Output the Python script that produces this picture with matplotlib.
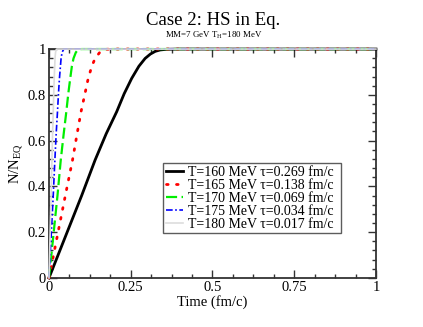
import numpy as np
import matplotlib
matplotlib.use('Agg')
import matplotlib.pyplot as plt
from matplotlib.ticker import MultipleLocator

plt.rcParams['font.family'] = ['Liberation Serif', 'DejaVu Serif']
plt.rcParams['mathtext.fontset'] = 'custom'
plt.rcParams['mathtext.rm'] = 'Liberation Serif'

# values
t_160 = [0, 0.05, 0.10, 0.141, 0.175, 0.207, 0.23, 0.253, 0.275, 0.294, 0.31, 0.325, 0.34, 0.36, 0.40, 1.0]
y_160 = [0, 0.18, 0.36, 0.515, 0.63, 0.726, 0.805, 0.872, 0.925, 0.959, 0.978, 0.99, 0.996, 0.999, 1.0, 1.0]

t_165 = [0, 0.025, 0.05, 0.072, 0.086, 0.098, 0.11, 0.12, 0.131, 0.141, 0.155, 0.165, 0.175, 0.20, 1.0]
y_165 = [0, 0.18, 0.36, 0.515, 0.63, 0.726, 0.805, 0.872, 0.925, 0.959, 0.985, 0.994, 0.999, 1.0, 1.0]

t_170 = [0, 0.013, 0.026, 0.036, 0.045, 0.053, 0.059, 0.065, 0.070, 0.075, 0.082, 0.087, 0.092, 0.10, 1.0]
y_170 = [0, 0.18, 0.36, 0.515, 0.63, 0.726, 0.805, 0.872, 0.925, 0.959, 0.985, 0.994, 0.999, 1.0, 1.0]

t_175 = [0, 0.0065, 0.013, 0.018, 0.022, 0.026, 0.029, 0.032, 0.035, 0.037, 0.040, 0.043, 0.045, 0.05, 1.0]
y_175 = [0, 0.18, 0.36, 0.515, 0.63, 0.726, 0.805, 0.872, 0.925, 0.959, 0.985, 0.994, 0.999, 1.0, 1.0]

t_180 = [0, 0.0032, 0.0065, 0.009, 0.011, 0.013, 0.0145, 0.016, 0.0175, 0.0185, 0.020, 0.0215, 0.0225, 0.025, 1.0]
y_180 = [0, 0.18, 0.36, 0.515, 0.63, 0.726, 0.805, 0.872, 0.925, 0.959, 0.985, 0.994, 0.999, 1.0, 1.0]

labels = [
    'T=160 MeV τ=0.269 fm/c',
    'T=165 MeV τ=0.138 fm/c',
    'T=170 MeV τ=0.069 fm/c',
    'T=175 MeV τ=0.034 fm/c',
    'T=180 MeV τ=0.017 fm/c',
]

fig = plt.figure(figsize=(4.23, 3.27), dpi=100)
ax = fig.add_axes([0.1158, 0.150, 0.773, 0.700])

ax.plot(t_160, y_160, color='black', lw=2.0, label=labels[0], clip_on=False, zorder=3)
ax.plot(t_165, y_165, color='red', lw=2.0, linestyle=(0, (0.6, 3.0)),
        dash_capstyle='round', label=labels[1], clip_on=False, zorder=3)
ax.plot(t_170, y_170, color='#00ee00', lw=1.6, linestyle=(0, (5, 2)),
        label=labels[2], clip_on=False, zorder=3)
ax.plot(t_175, y_175, color='blue', lw=1.2, linestyle=(0, (4, 1.5, 1, 1.5)),
        label=labels[3], clip_on=False, zorder=3)
ax.plot(t_180, y_180, color='#dddddd', lw=1.2, label=labels[4], clip_on=False, zorder=3)

ax.set_xlim(0, 1)
ax.set_ylim(0, 1)
ax.xaxis.set_major_locator(MultipleLocator(0.25))
ax.xaxis.set_minor_locator(MultipleLocator(0.0625))
ax.yaxis.set_major_locator(MultipleLocator(0.2))
ax.yaxis.set_minor_locator(MultipleLocator(0.04))
ax.set_xticks([0, 0.25, 0.5, 0.75, 1])
ax.set_xticklabels(['0', '0.25', '0.5', '0.75', '1'])
ax.set_yticks([0, 0.2, 0.4, 0.6, 0.8, 1])
ax.set_yticklabels(['0', '0.2', '0.4', '0.6', '0.8', '1'])
ax.tick_params(which='both', direction='in', top=True, right=True, labelsize=10.5,
               color='#333333', pad=2)
ax.tick_params(which='major', length=6, width=1)
ax.tick_params(which='minor', length=3, width=1)
for s in ax.spines.values():
    s.set_linewidth(1.3)
    s.set_color('#333333')

ax.set_xlabel('Time (fm/c)', fontsize=10.5, labelpad=1)
ax.set_ylabel(r'N/N$_{\rm EQ}$', fontsize=10.5, labelpad=2)

fig.text(0.504, 0.938, 'Case 2: HS in Eq.', ha='center', va='center', fontsize=13.5)
fig.text(0.504, 0.893, r'MM=7 GeV T$_{\rm H}$=180 MeV', ha='center', va='center', fontsize=6.4)

leg = ax.legend(loc='lower left', bbox_to_anchor=(0.35, 0.195, 0.542, 0.303), mode='expand',
                fontsize=10.0, frameon=True, fancybox=False, borderpad=0.2,
                labelspacing=0.0, handlelength=1.2, handletextpad=0.4, borderaxespad=0)
leg.get_frame().set_edgecolor('#333333')
leg.get_frame().set_linewidth(1.0)

fig.savefig('out.png', dpi=100)
